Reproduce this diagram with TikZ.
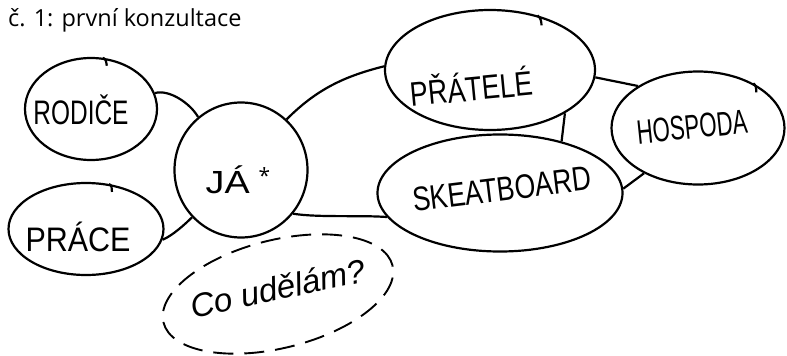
\documentclass[tikz,border=0pt]{standalone}
\usepackage{fontspec}
\setmainfont{Open Sans}
\newfontfamily\hand{Liberation Sans}
\usetikzlibrary{shapes.geometric}
\newcommand\wfit[2]{\resizebox{#1}{\height}{#2}}
\begin{document}
\begin{tikzpicture}[x=1pt,y=-1pt,
  blob/.style={ellipse, draw, line width=2.2pt, inner sep=0pt},
  link/.style={line width=2.2pt},
  lbl/.style={inner sep=0pt, font=\hand\fontsize{34}{34}\selectfont},
]
\useasboundingbox (0,0) rectangle (787,356);
% title
\node[anchor=base west, inner sep=0pt, font=\fontsize{23.5}{24}\selectfont] (title) at (8,27) {č. 1: první konzultace};
% blobs
\node[blob, minimum width=132pt, minimum height=102pt] (rod) at (91,109) {};
\node[blob, minimum width=155pt, minimum height=92pt] (pra) at (86,229) {};
\node[blob, minimum width=133pt, minimum height=135pt] (ja) at (241,170) {};
\node[blob, minimum width=210pt, minimum height=120pt] (prat) at (490,70) {};
\node[blob, minimum width=245pt, minimum height=117pt] (skate) at (500,193) {};
\node[blob, minimum width=173pt, minimum height=113pt] (hosp) at (698,128) {};
\node[ellipse, draw, line width=1.9pt, dash pattern=on 20pt off 11pt, rotate=14, minimum width=236pt, minimum height=108pt] (co) at (278,294) {};
% stroke ends of the hand-drawn outlines
\draw[link] (rod.77) .. controls +(3,1) and +(0,-3) .. ++(4,8);
\draw[link] (pra.63) .. controls +(3,1) and +(0,-3) .. ++(3,8);
\draw[link] (prat.49) .. controls +(3,2) and +(0,-4) .. ++(4,10);
\draw[link] (hosp.39) .. controls +(3,2) and +(0,-4) .. ++(3,9);
% labels
\node[lbl] (rodT) at (81,110) {\wfit{95pt}{RODIČE}};
\node[lbl] (praT) at (78,237) {\wfit{105pt}{PRÁCE}};
\node[lbl, font=\hand\fontsize{32}{32}\selectfont] (jaT) at (238,180) {\wfit{44pt}{JÁ}\hspace{9pt}\raisebox{10pt}{\normalfont\fontsize{21}{21}\selectfont *}};
\node[lbl, rotate=5.5] (pratT) at (471,86) {\wfit{123pt}{PŘÁTELÉ}};
\node[lbl, rotate=7] (skateT) at (502,189) {\wfit{180pt}{SKEATBOARD}};
\node[lbl, rotate=6] (hospT) at (692,127) {\wfit{111pt}{HOSPODA}};
\node[font=\hand\itshape\fontsize{33}{33}\selectfont, rotate=12, inner sep=0pt] (coT) at (278,288) {Co udělám?};
% connectors
\draw[link] (rod.14) .. controls +(14,-4) and +(-8,-14) .. (ja.129);
\draw[link] (pra.-8) .. controls +(10,-4) and +(-6,6) .. (ja.224);
\draw[link] (ja.48) .. controls +(30,-30) and +(-40,10) .. (prat.178);
\draw[link] (ja.-40) .. controls +(25,4) and +(-25,-2) .. (skate.192);
\draw[link] (prat.-30) -- (skate.40);
\draw[link] (prat.-4) -- (hosp.145);
\draw[link] (skate.2) -- (hosp.220);
\end{tikzpicture}
\end{document}
